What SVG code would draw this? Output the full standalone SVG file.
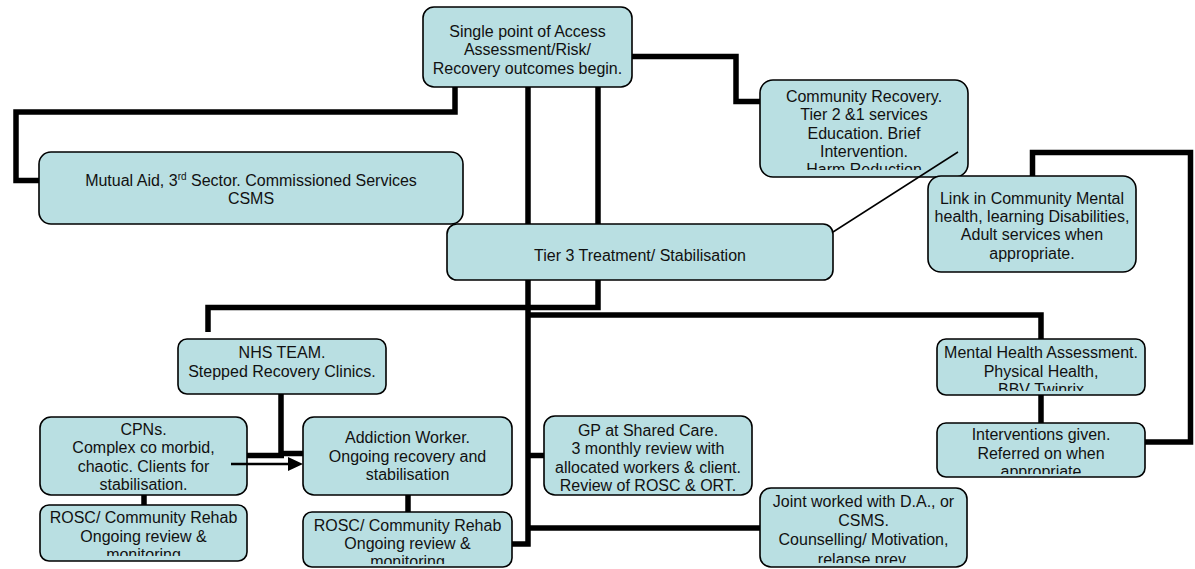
<svg xmlns="http://www.w3.org/2000/svg" width="1195" height="569" viewBox="0 0 1195 569">
<style>
.box{fill:#b9dfe2;stroke:#000;stroke-width:1.6}
.t{font-family:"Liberation Sans",Arial,sans-serif;font-size:16px;fill:#111;text-anchor:middle}
.c{fill:none;stroke:#000;stroke-width:5.5;stroke-linejoin:miter;stroke-linecap:butt}
</style>
<defs>
<clipPath id="clipCR"><rect x="760" y="80" width="208" height="90"/></clipPath>
<clipPath id="clipMH"><rect x="937" y="339" width="208" height="52"/></clipPath>
<clipPath id="clipInt"><rect x="937" y="423" width="208" height="51"/></clipPath>
<clipPath id="clipR1"><rect x="40" y="505" width="207" height="51"/></clipPath>
<clipPath id="clipR2"><rect x="303" y="512" width="209" height="52"/></clipPath>
<clipPath id="clipJ"><rect x="760" y="488" width="207" height="75"/></clipPath>
</defs>
<rect width="1195" height="569" fill="#fff"/>
<g id="connectors">
<path class="c" d="M455,87 V112 H16 V180.5 H40"/>
<path class="c" d="M632,56.5 H736 V101.5 H760"/>
<path class="c" d="M528,87 V544 H512"/>
<path class="c" d="M598,87 V307.5 H208 V332"/>
<path class="c" d="M528,315 H1041 V339"/>
<path class="c" d="M1041,395 V423"/>
<path class="c" d="M1145,442 H1190.5 V152.5 H1032.5 V176"/>
<path class="c" d="M528,455.5 H544"/>
<path class="c" d="M528,528 H760"/>
<path class="c" d="M281,394 V456 M247,455.5 H284 M281,453.5 H303"/>
<path class="c" d="M144,495 V505"/>
<path class="c" d="M408,495 V512"/>
</g>
<g id="n-access">
<rect class="box" x="423" y="7" width="209" height="80" rx="11"/>
<text class="t" x="527.5" y="36.5">Single point of Access</text>
<text class="t" x="527.5" y="55">Assessment/Risk/</text>
<text class="t" x="527.5" y="73.5">Recovery outcomes begin.</text>
</g>
<g id="n-mutual">
<rect class="box" x="39" y="152" width="424" height="72" rx="12"/>
<text class="t" x="251" y="186">Mutual Aid, 3<tspan dy="-6" font-size="10">rd</tspan><tspan dy="6"> Sector. Commissioned Services</tspan></text>
<text class="t" x="251" y="204">CSMS</text>
</g>
<g id="n-community">
<rect class="box" x="760" y="80" width="208" height="97" rx="13"/>
<g clip-path="url(#clipCR)">
<text class="t" x="864" y="102">Community Recovery.</text>
<text class="t" x="864" y="120">Tier 2 &amp;1 services</text>
<text class="t" x="864" y="138.5">Education. Brief</text>
<text class="t" x="864" y="157">Intervention.</text>
<text class="t" x="864" y="175">Harm Reduction</text>
</g>
</g>
<g id="n-tier3">
<rect class="box" x="447" y="224" width="386" height="56" rx="10"/>
<text class="t" x="640" y="261">Tier 3 Treatment/ Stabilisation</text>
</g>
<g id="n-link">
<rect class="box" x="928" y="176" width="208" height="96" rx="13"/>
<text class="t" x="1032" y="203.5">Link in Community Mental</text>
<text class="t" x="1032" y="222">health, learning Disabilities,</text>
<text class="t" x="1032" y="240">Adult services when</text>
<text class="t" x="1032" y="258.5">appropriate.</text>
</g>
<g id="n-nhs">
<rect class="box" x="178" y="339" width="208" height="55" rx="9"/>
<text class="t" x="282" y="358">NHS TEAM.</text>
<text class="t" x="282" y="377">Stepped Recovery Clinics.</text>
</g>
<g id="n-cpn">
<rect class="box" x="40" y="417" width="207" height="78" rx="11"/>
<text class="t" x="143.5" y="435">CPNs.</text>
<text class="t" x="143.5" y="453">Complex co morbid,</text>
<text class="t" x="143.5" y="472">chaotic. Clients for</text>
<text class="t" x="143.5" y="490">stabilisation.</text>
</g>
<g id="n-rosc1">
<rect class="box" x="40" y="505" width="207" height="56" rx="9"/>
<g clip-path="url(#clipR1)">
<text class="t" x="143.5" y="523">ROSC/ Community Rehab</text>
<text class="t" x="143.5" y="541.5">Ongoing review &amp;</text>
<text class="t" x="143.5" y="560">monitoring</text>
</g>
</g>
<g id="n-addiction">
<rect class="box" x="303" y="417" width="209" height="78" rx="11"/>
<text class="t" x="407.5" y="443">Addiction Worker.</text>
<text class="t" x="407.5" y="461.5">Ongoing recovery and</text>
<text class="t" x="407.5" y="480">stabilisation</text>
</g>
<g id="n-rosc2">
<rect class="box" x="303" y="512" width="209" height="55" rx="9"/>
<g clip-path="url(#clipR2)">
<text class="t" x="407.5" y="531">ROSC/ Community Rehab</text>
<text class="t" x="407.5" y="549">Ongoing review &amp;</text>
<text class="t" x="407.5" y="566.5">monitoring</text>
</g>
</g>
<g id="n-gp">
<rect class="box" x="544" y="416" width="208" height="79" rx="11"/>
<text class="t" x="648" y="436">GP at Shared Care.</text>
<text class="t" x="648" y="454">3 monthly review with</text>
<text class="t" x="648" y="473">allocated workers &amp; client.</text>
<text class="t" x="648" y="491">Review of ROSC &amp; ORT.</text>
</g>
<g id="n-joint">
<rect class="box" x="760" y="488" width="207" height="79" rx="11"/>
<g clip-path="url(#clipJ)">
<text class="t" x="863.5" y="507">Joint worked with D.A., or</text>
<text class="t" x="863.5" y="526">CSMS.</text>
<text class="t" x="863.5" y="544.5">Counselling/ Motivation,</text>
<text class="t" x="863.5" y="564.5">relapse prev.</text>
</g>
</g>
<g id="n-mh">
<rect class="box" x="937" y="339" width="208" height="56" rx="9"/>
<g clip-path="url(#clipMH)">
<text class="t" x="1041" y="358">Mental Health Assessment.</text>
<text class="t" x="1041" y="376.5">Physical Health,</text>
<text class="t" x="1041" y="395">BBV Twinrix</text>
</g>
</g>
<g id="n-interventions">
<rect class="box" x="937" y="423" width="208" height="54" rx="9"/>
<g clip-path="url(#clipInt)">
<text class="t" x="1041" y="440">Interventions given.</text>
<text class="t" x="1041" y="458.5">Referred on when</text>
<text class="t" x="1041" y="477">appropriate</text>
</g>
</g>
<g id="connectors-over">
<path d="M833,232 L958,152" fill="none" stroke="#000" stroke-width="1.5"/>
<path d="M231,464 H289" fill="none" stroke="#000" stroke-width="2.5"/>
<polygon points="288,457 303,464 288,471" fill="#000"/>
</g>
</svg>
